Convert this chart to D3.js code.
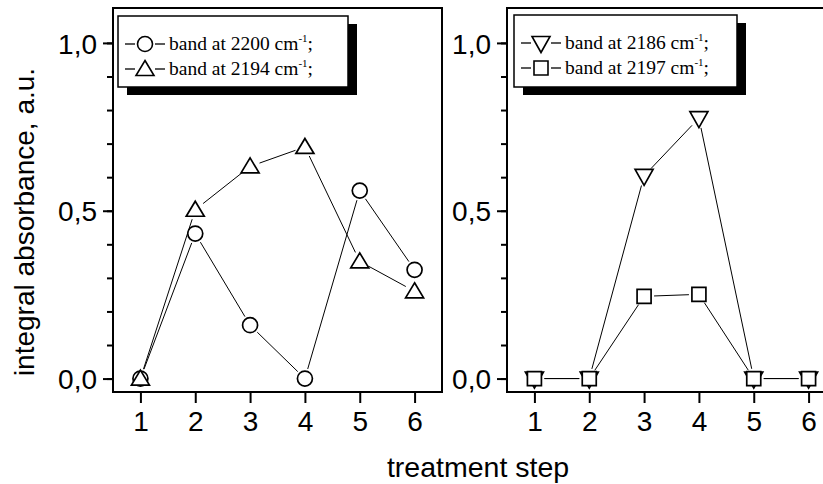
<!DOCTYPE html>
<html>
<head>
<meta charset="utf-8">
<script src="https://cdn.jsdelivr.net/npm/d3@7"></script>
<style>
  body { margin: 0; background: #fff; }
  svg { display: block; }
</style>
</head>
<body>
<svg id="chart" width="823" height="484"></svg>
<script>
// Treatment steps on the x axis
const steps = [1, 2, 3, 4, 5, 6];

// Integral absorbance of each IR band (a.u.)
const band2200 = [0, 0.432, 0.159, 0, 0.56, 0.324];
const band2194 = [0, 0.503, 0.632, 0.69, 0.349, 0.26];
const band2186 = [0, 0, 0.604, 0.776, 0, 0];
const band2197 = [0, 0, 0.245, 0.251, 0, 0];

// Axis ticks
const yMinorTicks = [0, 0.1, 0.2, 0.3, 0.4, 0.5, 0.6, 0.7, 0.8, 0.9, 1.0];
const yMajorTicks = [0, 0.5, 1.0];
const yMajorLabels = ["0,0", "0,5", "1,0"];
const xTickLabels = ["1", "2", "3", "4", "5", "6"];

const SANS = "'Liberation Sans', Arial, sans-serif";
const SERIF = "'Liberation Serif', 'Times New Roman', serif";

const svg = d3.select("#chart");

const plotTop = 8, plotBottom = 392, panelW = 329;
const y = d3.scaleLinear().domain([-0.04, 1.104]).range([plotBottom, plotTop]);

// Marker symbols, centred on the data point
const symbols = {
  circle: "M7.5,0A7.5,7.5 0 1,1 -7.5,0A7.5,7.5 0 1,1 7.5,0Z",
  up: "M0,-8.5L9,6.5L-9,6.5Z",
  down: "M0,9.5L9,-6.5L-9,-6.5Z",
  square: "M-7,-7H7V7H-7Z"
};

function panel(left, series, legend) {
  const x = d3.scaleLinear().domain([0.5, 6.5]).range([left, left + panelW]);
  const g = svg.append("g");

  // Minor y ticks (no labels)
  g.append("g")
    .attr("transform", `translate(${left},0)`)
    .call(d3.axisLeft(y).tickValues(yMinorTicks).tickSize(6).tickFormat(""))
    .call(a => a.select(".domain").remove())
    .call(a => a.selectAll("line").attr("stroke", "#000").attr("stroke-width", 2));

  // Major y ticks with labels
  g.append("g")
    .attr("transform", `translate(${left},0)`)
    .call(d3.axisLeft(y).tickValues(yMajorTicks).tickSize(10).tickPadding(6)
      .tickFormat((d, i) => yMajorLabels[i]))
    .call(a => a.select(".domain").remove())
    .call(a => a.selectAll("line").attr("stroke", "#000").attr("stroke-width", 2))
    .call(a => a.selectAll("text").attr("font-family", SANS).attr("font-size", 28)
      .attr("fill", "#000").attr("dy", "0.36em"));

  // x ticks
  g.append("g")
    .attr("transform", `translate(0,${plotBottom})`)
    .call(d3.axisBottom(x).tickValues(steps).tickSize(11).tickPadding(8)
      .tickFormat((d, i) => xTickLabels[i]))
    .call(a => a.select(".domain").remove())
    .call(a => a.selectAll("line").attr("stroke", "#000").attr("stroke-width", 2))
    .call(a => a.selectAll("text").attr("font-family", SANS).attr("font-size", 28)
      .attr("fill", "#000"));

  // Frame
  g.append("rect")
    .attr("x", left).attr("y", plotTop)
    .attr("width", panelW).attr("height", plotBottom - plotTop)
    .attr("fill", "none").attr("stroke", "#000").attr("stroke-width", 2);

  // Connecting lines, stopped short of the markers
  const gap = 10;
  series.forEach(s => {
    const pts = s.values.map((v, i) => [x(steps[i]), y(v)]);
    for (let i = 0; i < pts.length - 1; i++) {
      const [x0, y0] = pts[i], [x1, y1] = pts[i + 1];
      const dx = x1 - x0, dy = y1 - y0, len = Math.hypot(dx, dy);
      if (len <= 2 * gap) continue;
      const ux = dx / len, uy = dy / len;
      g.append("line")
        .attr("x1", x0 + ux * gap).attr("y1", y0 + uy * gap)
        .attr("x2", x1 - ux * gap).attr("y2", y1 - uy * gap)
        .attr("stroke", "#000").attr("stroke-width", 1);
    }
  });

  // Markers
  series.forEach(s => {
    g.append("g").selectAll("path")
      .data(s.values)
      .join("path")
      .attr("d", symbols[s.symbol])
      .attr("transform", (v, i) => `translate(${x(steps[i])},${y(v)})`)
      .attr("fill", "#fff").attr("stroke", "#000").attr("stroke-width", 1.7);
  });

  // Legend with drop shadow
  const lg = g.append("g");
  lg.append("rect")
    .attr("x", legend.x + 9).attr("y", legend.y + 8)
    .attr("width", legend.w).attr("height", legend.h).attr("fill", "#000");
  lg.append("rect")
    .attr("x", legend.x).attr("y", legend.y)
    .attr("width", legend.w).attr("height", legend.h)
    .attr("fill", "#fff").attr("stroke", "#000").attr("stroke-width", 1.5);

  series.forEach((s, i) => {
    const cy = legend.y + 28 + i * 25;
    const mx = legend.x + 27;
    lg.append("line").attr("x1", mx - 20).attr("x2", mx - 10)
      .attr("y1", cy).attr("y2", cy).attr("stroke", "#000").attr("stroke-width", 1.3);
    lg.append("line").attr("x1", mx + 10).attr("x2", mx + 20)
      .attr("y1", cy).attr("y2", cy).attr("stroke", "#000").attr("stroke-width", 1.3);
    lg.append("path").attr("d", symbols[s.symbol])
      .attr("transform", `translate(${mx},${cy})`)
      .attr("fill", "#fff").attr("stroke", "#000").attr("stroke-width", 1.6);
    const t = lg.append("text")
      .attr("x", legend.x + 51).attr("y", cy + 6)
      .attr("font-family", SERIF).attr("font-size", 19.5).attr("fill", "#000");
    t.append("tspan").text(`band at ${s.band} cm`);
    t.append("tspan").attr("dy", -8).attr("font-size", 11).text("-1");
    t.append("tspan").attr("dy", 8).text(";");
  });
}

panel(113, [
  { values: band2200, symbol: "circle", band: "2200" },
  { values: band2194, symbol: "up", band: "2194" }
], { x: 118, y: 16, w: 230, h: 71 });

panel(507, [
  { values: band2186, symbol: "down", band: "2186" },
  { values: band2197, symbol: "square", band: "2197" }
], { x: 514, y: 15, w: 223, h: 72 });

// Axis titles
svg.append("text")
  .attr("transform", "translate(34,222) rotate(-90)")
  .attr("text-anchor", "middle")
  .attr("font-family", SANS).attr("font-size", 28).attr("fill", "#000")
  .text("integral absorbance, a.u.");

svg.append("text")
  .attr("x", 478).attr("y", 477)
  .attr("text-anchor", "middle")
  .attr("font-family", SANS).attr("font-size", 28.5).attr("fill", "#000")
  .text("treatment step");
</script>
</body>
</html>
